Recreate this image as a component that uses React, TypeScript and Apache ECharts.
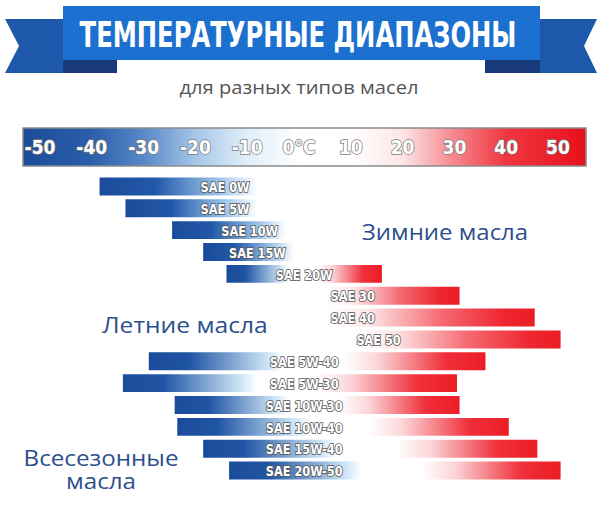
import React, { useRef, useEffect } from 'react';
import * as echarts from 'echarts';

// oil grades, top to bottom
const categories = [
  'SAE 0W', 'SAE 5W', 'SAE 10W', 'SAE 15W', 'SAE 20W',
  'SAE 30', 'SAE 40', 'SAE 50',
  'SAE 5W-40', 'SAE 5W-30', 'SAE 10W-30', 'SAE 10W-40', 'SAE 15W-40', 'SAE 20W-50',
];
// temperature range, °C
const lowTemps = [-38.5, -33.5, -24.5, -18.5, -14, 5.5, 5.5, 10.5, -29, -34, -24, -23.5, -18.5, -13.5];
const highTemps = [-8, -8, -2.5, -1, 16, 31, 45.5, 50.5, 36, 30.5, 31, 40.5, 46, 50.5];
// winter / summer / all-season look
const oilKinds = [
  'winter', 'winter', 'winter', 'winter', 'mixed',
  'summer', 'summer', 'summer',
  'mixed', 'mixed', 'mixed', 'mixed', 'mixed', 'mixed',
];
const scaleMin = -50;
const scaleMax = 50;
const scaleStep = 10;

const condensed = '"DejaVu Sans Condensed", "Liberation Sans Narrow", "Roboto", sans-serif';
const thin = '"Open Sans", "Lato", sans-serif';
const BLUE = '#1b4c9b';
const RED = '#ec1c24';
const groupColor = '#2d4e8c';

const gradFor = (kind: string) => {
  if (kind === 'winter') {
    return new echarts.graphic.LinearGradient(0, 0, 1, 0, [
      { offset: 0, color: BLUE },
      { offset: 0.35, color: '#2258a8' },
      { offset: 0.75, color: '#9cc4ea' },
      { offset: 1, color: '#ffffff' },
    ]);
  }
  if (kind === 'summer') {
    return new echarts.graphic.LinearGradient(0, 0, 1, 0, [
      { offset: 0, color: '#ffffff' },
      { offset: 0.2, color: '#fde6e7' },
      { offset: 0.55, color: '#f56a72' },
      { offset: 0.85, color: '#ee2630' },
      { offset: 1, color: RED },
    ]);
  }
  return new echarts.graphic.LinearGradient(0, 0, 1, 0, [
    { offset: 0, color: BLUE },
    { offset: 0.12, color: '#1f55a4' },
    { offset: 0.36, color: '#d3e9f8' },
    { offset: 0.4, color: '#ffffff' },
    { offset: 0.58, color: '#ffffff' },
    { offset: 0.68, color: '#fbd5d8' },
    { offset: 0.88, color: '#f0303b' },
    { offset: 1, color: RED },
  ]);
};

const caption = (text: string, x: number, y: number, scaleX: number) => ({
  type: 'text', z: 3, x, y, scaleX,
  style: { text, fill: groupColor, fontSize: 22, fontFamily: thin, align: 'center', verticalAlign: 'middle' },
});

const App: React.FC = () => {
  const chartRef = useRef<HTMLDivElement>(null);

  useEffect(() => {
    if (!chartRef.current) return;
    const chart = echarts.init(chartRef.current, undefined, { renderer: 'svg' });

    const scaleGradient = new echarts.graphic.LinearGradient(0, 0, 1, 0, [
      { offset: 0, color: '#1c4c98' },
      { offset: 0.122, color: '#2a5fab' },
      { offset: 0.214, color: '#5888c8' },
      { offset: 0.306, color: '#a5c6e8' },
      { offset: 0.398, color: '#e0eff9' },
      { offset: 0.49, color: '#ffffff' },
      { offset: 0.582, color: '#ffffff' },
      { offset: 0.674, color: '#fde5e6' },
      { offset: 0.766, color: '#f6868d' },
      { offset: 0.858, color: '#f03640' },
      { offset: 1, color: '#e8101c' },
    ]);

    chart.setOption({
      animation: false,
      backgroundColor: '#ffffff',
      grid: { left: 40, right: 42, top: 175.5, bottom: 23.5, outerBoundsMode: 'none' },
      xAxis: {
        type: 'value',
        position: 'top',
        min: scaleMin,
        max: scaleMax,
        interval: scaleStep,
        z: 10,
        axisLine: { show: false },
        axisTick: { show: false },
        splitLine: { show: false },
        axisLabel: {
          margin: 29,
          verticalAlign: 'middle',
          fontSize: 19,
          fontWeight: 'bold',
          fontFamily: condensed,
          color: '#ffffff',
          textBorderColor: '#7a7a7a',
          textBorderWidth: 1.5,
          formatter: (v: number) => (v === 0 ? '0°C' : String(v)),
        },
      },
      yAxis: {
        type: 'category',
        data: categories,
        inverse: true,
        show: false,
      },
      graphic: [
        // ribbon tails
        { type: 'polygon', z: 1, shape: { points: [[5, 19], [117, 19], [117, 73], [5, 73], [19, 46]] }, style: { fill: '#1d58aa' } },
        { type: 'polygon', z: 1, shape: { points: [[597, 19], [485, 19], [485, 73], [597, 73], [584, 46]] }, style: { fill: '#1d58aa' } },
        { type: 'rect', z: 1, shape: { x: 63, y: 58, width: 54, height: 15 }, style: { fill: '#18397a' } },
        { type: 'rect', z: 1, shape: { x: 485, y: 58, width: 55, height: 15 }, style: { fill: '#18397a' } },
        { type: 'rect', z: 2, shape: { x: 63, y: 6, width: 477, height: 54 }, style: { fill: '#1c70cf' } },
        {
          type: 'text', z: 3, x: 298, y: 35, scaleX: 0.77,
          style: {
            text: 'ТЕМПЕРАТУРНЫЕ ДИАПАЗОНЫ', fill: '#ffffff', fontSize: 35, fontWeight: 'bold',
            fontFamily: condensed, align: 'center', verticalAlign: 'middle',
          },
        },
        {
          type: 'text', z: 3, x: 299, y: 87, scaleX: 1.12,
          style: {
            text: 'для разных типов масел', fill: '#555555', fontSize: 18,
            fontFamily: thin, align: 'center', verticalAlign: 'middle',
          },
        },
        // temperature scale strip
        {
          type: 'rect', z: 1, shape: { x: 23, y: 128, width: 563, height: 38 },
          style: { fill: scaleGradient, stroke: '#8a8a8a', lineWidth: 1.5 },
        },
        // group captions
        caption('Зимние масла', 445, 231, 1.09),
        caption('Летние масла', 185, 325, 1.12),
        caption('Всесезонные', 101, 457, 1.1),
        caption('масла', 101, 480, 1.1),
      ],
      series: [
        {
          type: 'custom',
          z: 5,
          data: categories.map((c, i) => [i, lowTemps[i], highTemps[i]]),
          encode: { x: [1, 2], y: 0 },
          renderItem: (params: any, api: any) => {
            const idx = api.value(0);
            const start = api.coord([api.value(1), idx]);
            const end = api.coord([api.value(2), idx]);
            const h = api.size([0, 1])[1] * 0.82;
            const kind = oilKinds[idx];
            let lx = api.coord([1, idx])[0];
            let align = 'center';
            if (kind === 'winter') {
              lx = end[0] - 8;
              align = 'right';
            } else if (kind === 'summer') {
              lx = start[0] + 3;
              align = 'left';
            }
            return {
              type: 'group',
              children: [
                {
                  type: 'rect',
                  shape: { x: start[0], y: start[1] - h / 2, width: end[0] - start[0], height: h },
                  style: { fill: gradFor(kind) },
                },
                {
                  type: 'text',
                  x: lx,
                  y: start[1] + 1,
                  scaleX: 0.9,
                  style: {
                    text: categories[idx],
                    align,
                    verticalAlign: 'middle',
                    fill: '#ffffff',
                    stroke: '#555555',
                    lineWidth: 1.6,
                    fontSize: 14,
                    fontWeight: 'bold',
                    fontFamily: condensed,
                  },
                },
              ],
            };
          },
        },
      ],
    });

    return () => {
      chart.dispose();
    };
  }, []);

  return (
    <div
      ref={chartRef}
      style={{ position: 'fixed', left: 0, top: 0, width: 600, height: 505 }}
    />
  );
};

export default App;
